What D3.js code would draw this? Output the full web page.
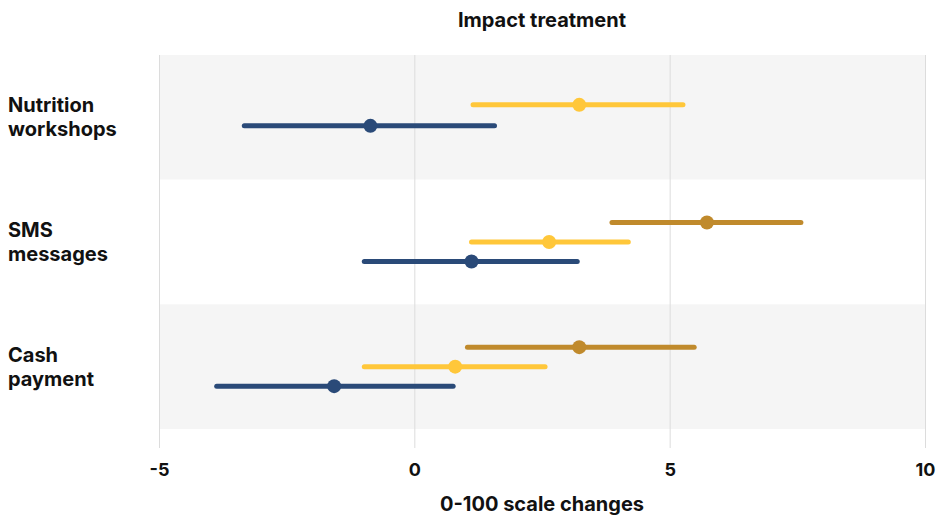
<!DOCTYPE html>
<html>
<head>
<meta charset="utf-8">
<script src="https://cdn.jsdelivr.net/npm/d3@7"></script>
<style>
  body { margin: 0; background: #fff; }
  text { font-family: Inter, "Open Sans", sans-serif; font-weight: 700; fill: #111; }
</style>
</head>
<body>
<div id="chart"></div>
<script>
// data
const categories = ["Nutrition workshops", "SMS messages", "Cash payment"];
const seriesNames = ["gold", "yellow", "navy"];
const seriesColors = { gold: "#c08a2c", yellow: "#ffc73a", navy: "#2a4a78" };

// [category, series, low, estimate, high]
const nutritionRows = [
  ["Nutrition workshops", "yellow", 1.15, 3.23, 5.26],
  ["Nutrition workshops", "navy", -3.33, -0.86, 1.57]
];
const smsRows = [
  ["SMS messages", "gold", 3.87, 5.73, 7.57],
  ["SMS messages", "yellow", 1.12, 2.64, 4.19],
  ["SMS messages", "navy", -0.98, 1.12, 3.19]
];
const cashRows = [
  ["Cash payment", "gold", 1.04, 3.23, 5.48],
  ["Cash payment", "yellow", -0.98, 0.80, 2.56],
  ["Cash payment", "navy", -3.87, -1.57, 0.76]
];
const xTicks = [-5, 0, 5, 10];

const rows = [...nutritionRows, ...smsRows, ...cashRows].map(r => ({
  cat: r[0], series: r[1], lo: r[2], est: r[3], hi: r[4]
}));

const W = 936, H = 515;
const m = { top: 55, left: 159, right: 11, bottom: 86 };
const innerW = W - m.left - m.right;
const innerH = H - m.top - m.bottom; // 374

const svg = d3.select("#chart").append("svg")
  .attr("width", W).attr("height", H);

const g = svg.append("g").attr("transform", `translate(${m.left},${m.top})`);

const x = d3.scaleLinear().domain([-5, 10]).range([0, innerW]);
const y = d3.scaleBand().domain(categories).range([0, innerH]).padding(0);

// alternating bands
g.selectAll("rect.band")
  .data(categories)
  .enter().append("rect")
  .attr("class", "band")
  .attr("x", 0)
  .attr("y", d => y(d))
  .attr("width", innerW)
  .attr("height", y.bandwidth())
  .attr("fill", (d, i) => i % 2 === 0 ? "#f5f5f5" : "#fff");

// gridlines
const xAxis = d3.axisBottom(x).tickValues(xTicks).tickSize(innerH + 19).tickFormat(d => d);
const ax = g.append("g").call(xAxis);
ax.select(".domain").remove();
ax.selectAll(".tick line").attr("stroke", "#dcdcdc").attr("stroke-width", 1);
ax.selectAll(".tick text")
  .attr("y", innerH + 34)
  .attr("font-size", 18)
  .style("font-family", "Inter, 'Open Sans', sans-serif")
  .style("font-weight", 700)
  .attr("fill", "#111");

// series position inside each band
function rowY(d) {
  const present = rows.filter(r => r.cat === d.cat).map(r => r.series);
  const n = present.length;
  const i = present.indexOf(d.series);
  const center = y(d.cat) + y.bandwidth() / 2 - (n === 2 ? 2 : 0);
  return center + (i - (n - 1) / 2) * (n === 2 ? 21 : 19.5);
}

g.selectAll("line.ci")
  .data(rows)
  .enter().append("line")
  .attr("class", "ci")
  .attr("x1", d => x(d.lo))
  .attr("x2", d => x(d.hi))
  .attr("y1", rowY)
  .attr("y2", rowY)
  .attr("stroke", d => seriesColors[d.series])
  .attr("stroke-width", 5)
  .attr("stroke-linecap", "round");

g.selectAll("circle.est")
  .data(rows)
  .enter().append("circle")
  .attr("class", "est")
  .attr("cx", d => x(d.est))
  .attr("cy", rowY)
  .attr("r", 7)
  .attr("fill", d => seriesColors[d.series]);

// category labels
categories.forEach(c => {
  const words = c.split(" ");
  const t = svg.append("text")
    .attr("x", 8)
    .attr("font-size", 20);
  const cy = m.top + y(c) + y.bandwidth() / 2;
  words.forEach((w, i) => {
    t.append("tspan")
      .attr("x", 8)
      .attr("y", cy - 5 + i * 24)
      .text(w);
  });
});

// titles
svg.append("text")
  .attr("x", m.left + innerW / 2)
  .attr("y", 27)
  .attr("text-anchor", "middle")
  .attr("font-size", 20)
  .text("Impact treatment");

svg.append("text")
  .attr("x", m.left + innerW / 2)
  .attr("y", 511)
  .attr("text-anchor", "middle")
  .attr("font-size", 20)
  .text("0-100 scale changes");
</script>
</body>
</html>
